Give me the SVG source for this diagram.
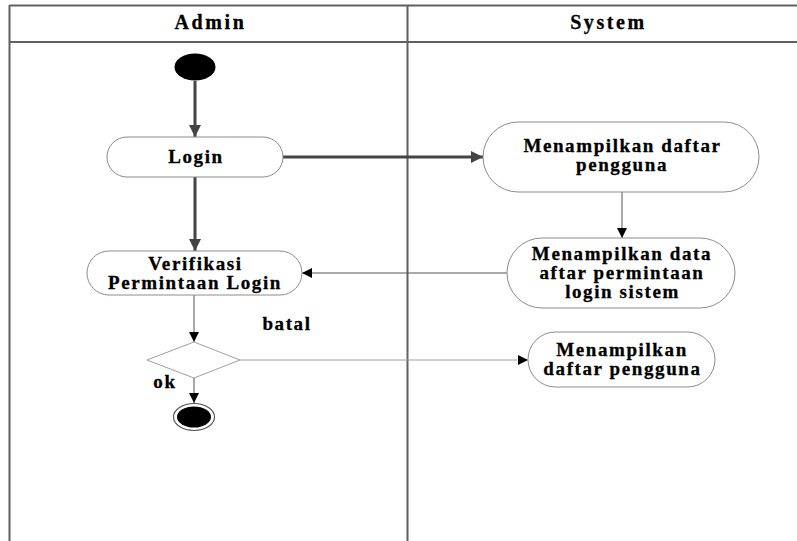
<svg xmlns="http://www.w3.org/2000/svg" width="797" height="541" viewBox="0 0 797 541">
  <style>
    .lane { stroke: #606060; stroke-width: 2; fill: none; }
    .act { fill: #ffffff; stroke: #8c8c8c; stroke-width: 1; }
    .txt { font-family: "Liberation Serif", "Times New Roman", serif; font-weight: bold; font-size: 19px; fill: #000; stroke: #000; stroke-width: 0.3; text-anchor: middle; letter-spacing: 1.6px; }
    .hdr { font-size: 20px; letter-spacing: 2.6px; }
    .thick { stroke: #444444; stroke-width: 3; fill: none; }
    .thin { stroke: #555555; stroke-width: 1; fill: none; }
    .light { stroke: #a0a0a0; stroke-width: 1; fill: none; }
  </style>
  <defs>
    <marker id="bigHead" markerWidth="14" markerHeight="14" refX="12" refY="6" orient="auto" markerUnits="userSpaceOnUse">
      <path d="M0,0 L12,6 L0,12 Z" fill="#444444"/>
    </marker>
    <marker id="smallHead" markerWidth="12" markerHeight="12" refX="10" refY="5" orient="auto" markerUnits="userSpaceOnUse">
      <path d="M0,0 L10,5 L0,10 Z" fill="#000000"/>
    </marker>
  </defs>

  <rect width="797" height="541" fill="#ffffff"/>

  <!-- swimlanes -->
  <g id="lanes">
    <line class="lane" x1="9.5" y1="5.5" x2="797" y2="5.5"/>
    <line class="lane" x1="9.5" y1="42" x2="797" y2="42"/>
    <line class="lane" x1="9.5" y1="5" x2="9.5" y2="541"/>
    <line class="lane" x1="407.5" y1="5" x2="407.5" y2="541"/>
    <text class="txt hdr" x="210.5" y="29">Admin</text>
    <text class="txt hdr" x="608.5" y="29">System</text>
  </g>

  <!-- connectors -->
  <g id="connectors">
    <line class="thick" x1="195" y1="81" x2="195" y2="137" marker-end="url(#bigHead)"/>
    <line class="thick" x1="283" y1="157" x2="483" y2="157" marker-end="url(#bigHead)"/>
    <line class="thick" x1="195" y1="177" x2="195" y2="251" marker-end="url(#bigHead)"/>
    <line class="thin" x1="622" y1="192" x2="622" y2="238" marker-end="url(#smallHead)"/>
    <line class="thin" x1="507" y1="273" x2="302" y2="273" marker-end="url(#smallHead)"/>
    <line class="thin" x1="194" y1="295" x2="194" y2="342" marker-end="url(#smallHead)"/>
    <line class="light" x1="240" y1="360" x2="528" y2="360" marker-end="url(#smallHead)"/>
    <line class="thin" x1="194" y1="378" x2="194" y2="403" marker-end="url(#smallHead)"/>
  </g>

  <g id="start">
    <ellipse cx="195" cy="67" rx="20.5" ry="13.5" fill="#000000"/>
  </g>

  <g id="login">
    <rect class="act" x="107" y="137" width="176" height="40" rx="20" ry="20"/>
    <text class="txt" x="196" y="163">Login</text>
  </g>

  <g id="tampil-daftar">
    <rect class="act" x="483" y="122" width="276" height="70" rx="35" ry="35"/>
    <text class="txt" x="622.5" y="152">Menampilkan daftar</text>
    <text class="txt" x="622" y="171">pengguna</text>
  </g>

  <g id="tampil-data">
    <rect class="act" x="507" y="238" width="228" height="70" rx="35" ry="35"/>
    <text class="txt" x="622" y="260">Menampilkan data</text>
    <text class="txt" x="622" y="279">aftar permintaan</text>
    <text class="txt" x="622.5" y="298">login sistem</text>
  </g>

  <g id="verifikasi">
    <rect class="act" x="87" y="251" width="215" height="44" rx="22" ry="22"/>
    <text class="txt" x="195.5" y="270">Verifikasi</text>
    <text class="txt" x="195" y="289">Permintaan Login</text>
  </g>

  <g id="decision">
    <polygon points="194,342 240,360 194,378 147,360" fill="#ffffff" stroke="#a0a0a0" stroke-width="1"/>
    <text class="txt" x="287" y="330">batal</text>
    <text class="txt" x="165" y="388">ok</text>
  </g>

  <g id="tampil-pengguna">
    <rect class="act" x="528" y="332" width="187" height="55" rx="27.5" ry="27.5"/>
    <text class="txt" x="622" y="356">Menampilkan</text>
    <text class="txt" x="622.5" y="375">daftar pengguna</text>
  </g>

  <g id="end">
    <ellipse cx="194" cy="417" rx="20.5" ry="13.5" fill="#ffffff" stroke="#555555" stroke-width="1.2"/>
    <ellipse cx="194" cy="417" rx="17" ry="10.5" fill="#000000"/>
  </g>
</svg>
